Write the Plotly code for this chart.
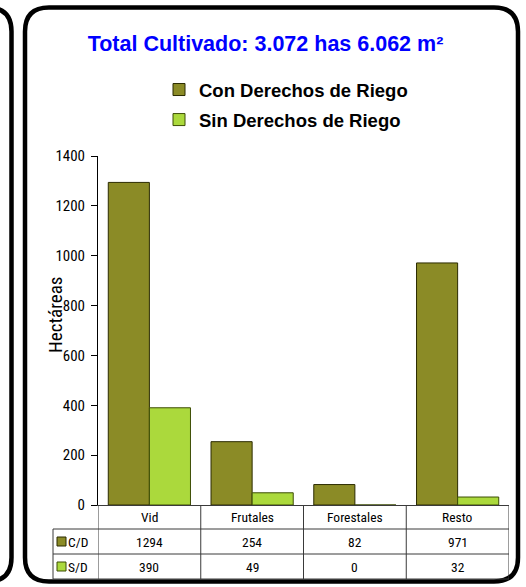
import plotly.graph_objects as go

# ---------------- data ----------------
categories = ["Vid", "Frutales", "Forestales", "Resto"]
con_derechos = [1294, 254, 82, 971]
sin_derechos = [390, 49, 0, 32]
series_names = ["Con Derechos de Riego", "Sin Derechos de Riego"]
series_short = ["C/D", "S/D"]
y_ticks = [0, 200, 400, 600, 800, 1000, 1200, 1400]
title_text = "Total Cultivado: 3.072 has 6.062 m²"
y_title = "Hectáreas"

# ---------------- geometry helpers ----------------
W, H = 526, 587
L, R, T, B = 98, 17, 156, 82
PW = W - L - R
PH = H - T - B


def px(x):
    return (x - L) / PW


def py(y):
    return (H - B - y) / PH


def rrect(x0, y0, x1, y1, r):
    return (
        f"M {px(x0 + r)},{py(y0)} L {px(x1 - r)},{py(y0)} "
        f"Q {px(x1)},{py(y0)} {px(x1)},{py(y0 + r)} "
        f"L {px(x1)},{py(y1 - r)} Q {px(x1)},{py(y1)} {px(x1 - r)},{py(y1)} "
        f"L {px(x0 + r)},{py(y1)} Q {px(x0)},{py(y1)} {px(x0)},{py(y1 - r)} "
        f"L {px(x0)},{py(y0 + r)} Q {px(x0)},{py(y0)} {px(x0 + r)},{py(y0)} Z"
    )


NARROW = "Roboto Condensed, DejaVu Sans, sans-serif"
ARIAL = "Liberation Sans, Arial, sans-serif"

fills = ["#8b8b26", "#abd93c"]
outlines = ["#2b2b00", "#3d4d05"]

fig = go.Figure()
for i, (name, vals) in enumerate(zip(series_names, [con_derechos, sin_derechos])):
    fig.add_trace(go.Bar(
        x=categories, y=vals, name=name, legendgroup=f"g{i}",
        marker=dict(color=fills[i], line=dict(color=outlines[i], width=1)),
    ))

shapes = []
# panels
shapes.append(dict(type="path", xref="paper", yref="paper",
                   path=rrect(25, 7.5, 518, 581.5, 24),
                   line=dict(color="black", width=4.5)))
shapes.append(dict(type="path", xref="paper", yref="paper",
                   path=rrect(-300, 7.5, 11.5, 581.5, 24),
                   line=dict(color="black", width=4.5)))

tbl_line = dict(color="#3a3a3a", width=1)
for yy in [529, 554, 579]:
    shapes.append(dict(type="line", xref="paper", yref="paper",
                       x0=px(53), x1=1, y0=py(yy), y1=py(yy), line=tbl_line))
shapes.append(dict(type="line", xref="paper", yref="paper",
                   x0=px(53), x1=px(53), y0=py(529), y1=py(579), line=tbl_line))
for k in range(len(categories) + 1):
    shapes.append(dict(type="line", xref="x", yref="paper",
                       x0=k - 0.5, x1=k - 0.5, y0=0, y1=py(579), line=tbl_line))

annotations = []
row_centers = [541.5, 566.5]
cell_font = dict(family=NARROW, size=13.5, color="black")
for c in categories:
    annotations.append(dict(x=c, y=py(517), xref="x", yref="paper", text=c,
                            xanchor="center", yanchor="middle",
                            showarrow=False, font=cell_font))
for r, (short, vals) in enumerate(zip(series_short, [con_derechos, sin_derechos])):
    yc = row_centers[r]
    shapes.append(dict(type="rect", xref="paper", yref="paper",
                       x0=px(57), x1=px(66), y0=py(yc - 4.5), y1=py(yc + 4.5),
                       fillcolor=fills[r], line=dict(color=outlines[r], width=1)))
    annotations.append(dict(x=px(65.5), y=py(yc), xref="paper", yref="paper", text=short,
                            xanchor="left", yanchor="middle", showarrow=False, font=cell_font))
    for c, v in zip(categories, vals):
        annotations.append(dict(x=c, y=py(yc), xref="x", yref="paper", text=str(v),
                                xanchor="center", yanchor="middle",
                                showarrow=False, font=cell_font))

annotations.append(dict(x=px(55), y=py(315), xref="paper", yref="paper", text=y_title,
                        textangle=-90, xanchor="center", yanchor="middle", showarrow=False,
                        font=dict(family=NARROW, size=19, color="black")))

fig.update_layout(
    width=W, height=H,
    margin=dict(l=L, r=R, t=T, b=B, autoexpand=False),
    paper_bgcolor="white", plot_bgcolor="white",
    barmode="group", bargap=0.2, bargroupgap=0,
    title=dict(text=title_text, x=265.5 / W, y=1 - 43 / H, xanchor="center", yanchor="middle",
               xref="container", yref="container",
               font=dict(family=ARIAL, size=21.5, color="#0000ff", weight="bold")),
    legend=dict(x=px(159), y=py(71), xanchor="left", yanchor="top", orientation="v",
                traceorder="grouped", tracegroupgap=3,
                font=dict(family=ARIAL, size=18.5, color="black", weight="bold"),
                bgcolor="rgba(0,0,0,0)"),
    xaxis=dict(range=[-0.5, len(categories) - 0.5], showticklabels=False, ticks="",
               showline=True, linecolor="#3a3a3a", linewidth=1, showgrid=False, zeroline=False,
               fixedrange=True),
    yaxis=dict(range=[0, 1400], tickvals=y_ticks, ticks="outside", ticklen=6, tickcolor="black",
               showline=True, linecolor="black", linewidth=1, showgrid=False, zeroline=False,
               tickfont=dict(family=NARROW, size=15, color="black"), ticklabelstandoff=3,
               fixedrange=True),
    shapes=shapes, annotations=annotations,
)

fig.write_html("out.html", config={"displayModeBar": False},
               post_script="document.body.style.margin='0';")
